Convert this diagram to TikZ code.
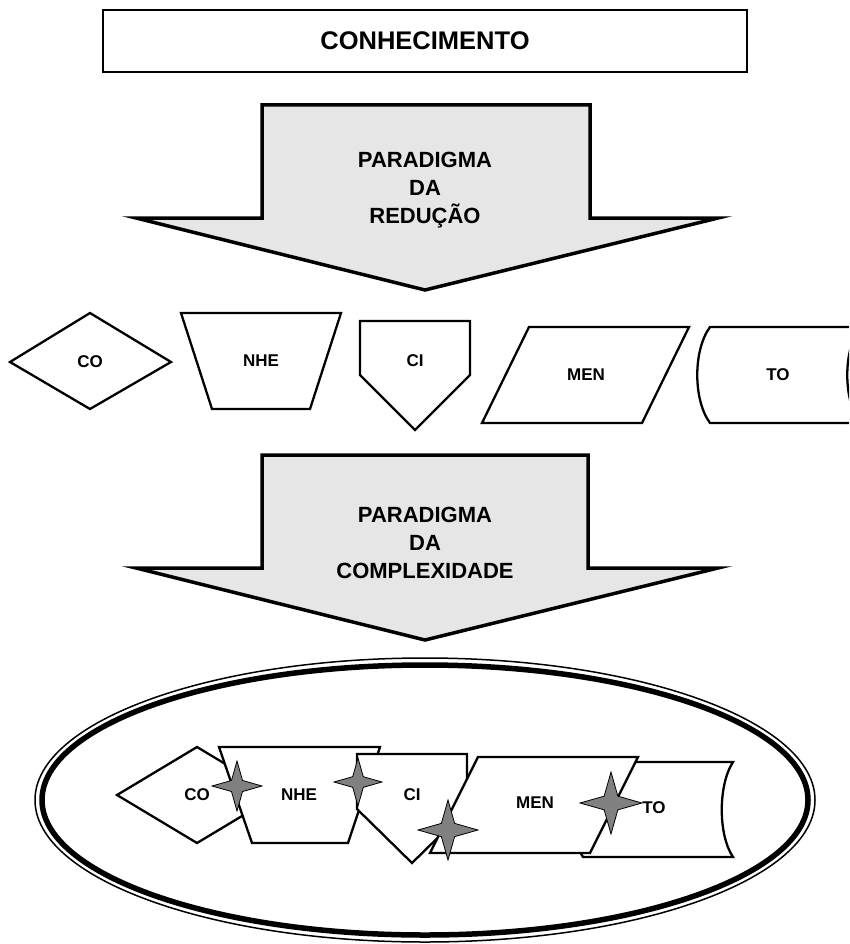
\documentclass[tikz,border=0pt]{standalone}
\usepackage{fontspec}
\setmainfont{Liberation Sans}
\usetikzlibrary{shapes.geometric}
\definecolor{arrowfill}{HTML}{E6E6E6}
\definecolor{starfill}{HTML}{808080}
\tikzset{
  shapeline/.style={draw=black, line width=2.3pt, fill=white, line join=miter},
  bigarrow/.style={draw=black, line width=3.5pt, fill=arrowfill, line join=miter},
  lbl/.style={font=\fontsize{17}{20}\selectfont\bfseries, inner sep=0pt},
  arrowtext/.style={font=\fontsize{22}{28}\selectfont\bfseries, align=center, inner sep=0pt},
  sparkle/.style={star, star points=4, star point ratio=3.2, draw=black, line width=0.8pt, fill=starfill, inner sep=0pt},
}
\begin{document}
\begin{tikzpicture}[x=1pt,y=-1pt]
\useasboundingbox (0,0) rectangle (849,944);

% top box
\node[draw, line width=2pt, minimum width=644pt, minimum height=62pt,
      font=\fontsize{25.5}{30}\selectfont\bfseries] (know) at (425,41) {CONHECIMENTO};

% arrow 1
\draw[bigarrow] (262,105) -- (590,105) -- (590,218) -- (718,218) -- (425,290)
   -- (136,218) -- (262,218) -- cycle;
\node[arrowtext] (red) at (425,190) {PARADIGMA\\DA\\REDUÇÃO};

% row of separate shapes
\draw[shapeline] (10,362) -- (90,313) -- (171,362) -- (90,409) -- cycle;
\node[lbl] (co1) at (90,362) {CO};
\draw[shapeline] (181,313) -- (341,313) -- (310,409) -- (212,409) -- cycle;
\node[lbl] (nhe1) at (261,361) {NHE};
\draw[shapeline] (360,321) -- (470,321) -- (470,375) -- (415,430) -- (360,375) -- cycle;
\node[lbl] (ci1) at (415,361) {CI};
\draw[shapeline] (529,327) -- (689,327) -- (642,423) -- (482,423) -- cycle;
\node[lbl] (men1) at (586,375) {MEN};
\begin{scope}
  \clip (0,0) rectangle (849,944);
  \draw[shapeline] (710,327) -- (860,327) .. controls (843,350) and (843,400) .. (860,423)
     -- (710,423) .. controls (693,400) and (693,350) .. (710,327) -- cycle;
\end{scope}
\node[lbl] (to1) at (778,375) {TO};

% arrow 2
\draw[bigarrow] (262,455) -- (588,455) -- (588,568) -- (718,568) -- (425,640)
   -- (136,568) -- (262,568) -- cycle;
\node[arrowtext] (comp) at (425,543) {PARADIGMA\\DA\\COMPLEXIDADE};

% ellipse
\draw[line width=1.5pt] (425,800) ellipse [x radius=390pt, y radius=142pt];
\draw[line width=5.5pt] (425,800) ellipse [x radius=383pt, y radius=135pt];

% joined shapes
\draw[shapeline] (117,795) -- (197,747) -- (277,795) -- (197,843) -- cycle;
\node[lbl] (co2) at (197,795) {CO};
\draw[shapeline] (219,747) -- (380,747) -- (348,843) -- (252,843) -- cycle;
\node[lbl] (nhe2) at (299,795) {NHE};
\draw[shapeline] (357,754) -- (467,754) -- (467,809) -- (412,863) -- (357,809) -- cycle;
\node[lbl] (ci2) at (412,795) {CI};
\draw[shapeline] (583,762) -- (733,762) .. controls (718,785) and (718,835) .. (733,857)
   -- (583,857) .. controls (568,835) and (568,785) .. (583,762) -- cycle;
\node[lbl] (to2) at (654,808) {TO};
\draw[shapeline] (478,757) -- (638,757) -- (590,853) -- (430,853) -- cycle;
\node[lbl] (men2) at (535,803) {MEN};

% stars
\node[sparkle, minimum size=50pt] (s1) at (237,786) {};
\node[sparkle, minimum size=48pt] (s2) at (358,782) {};
\node[sparkle, minimum size=60pt] (s3) at (448,830) {};
\node[sparkle, minimum size=62pt] (s4) at (611,803) {};
\end{tikzpicture}
\end{document}
